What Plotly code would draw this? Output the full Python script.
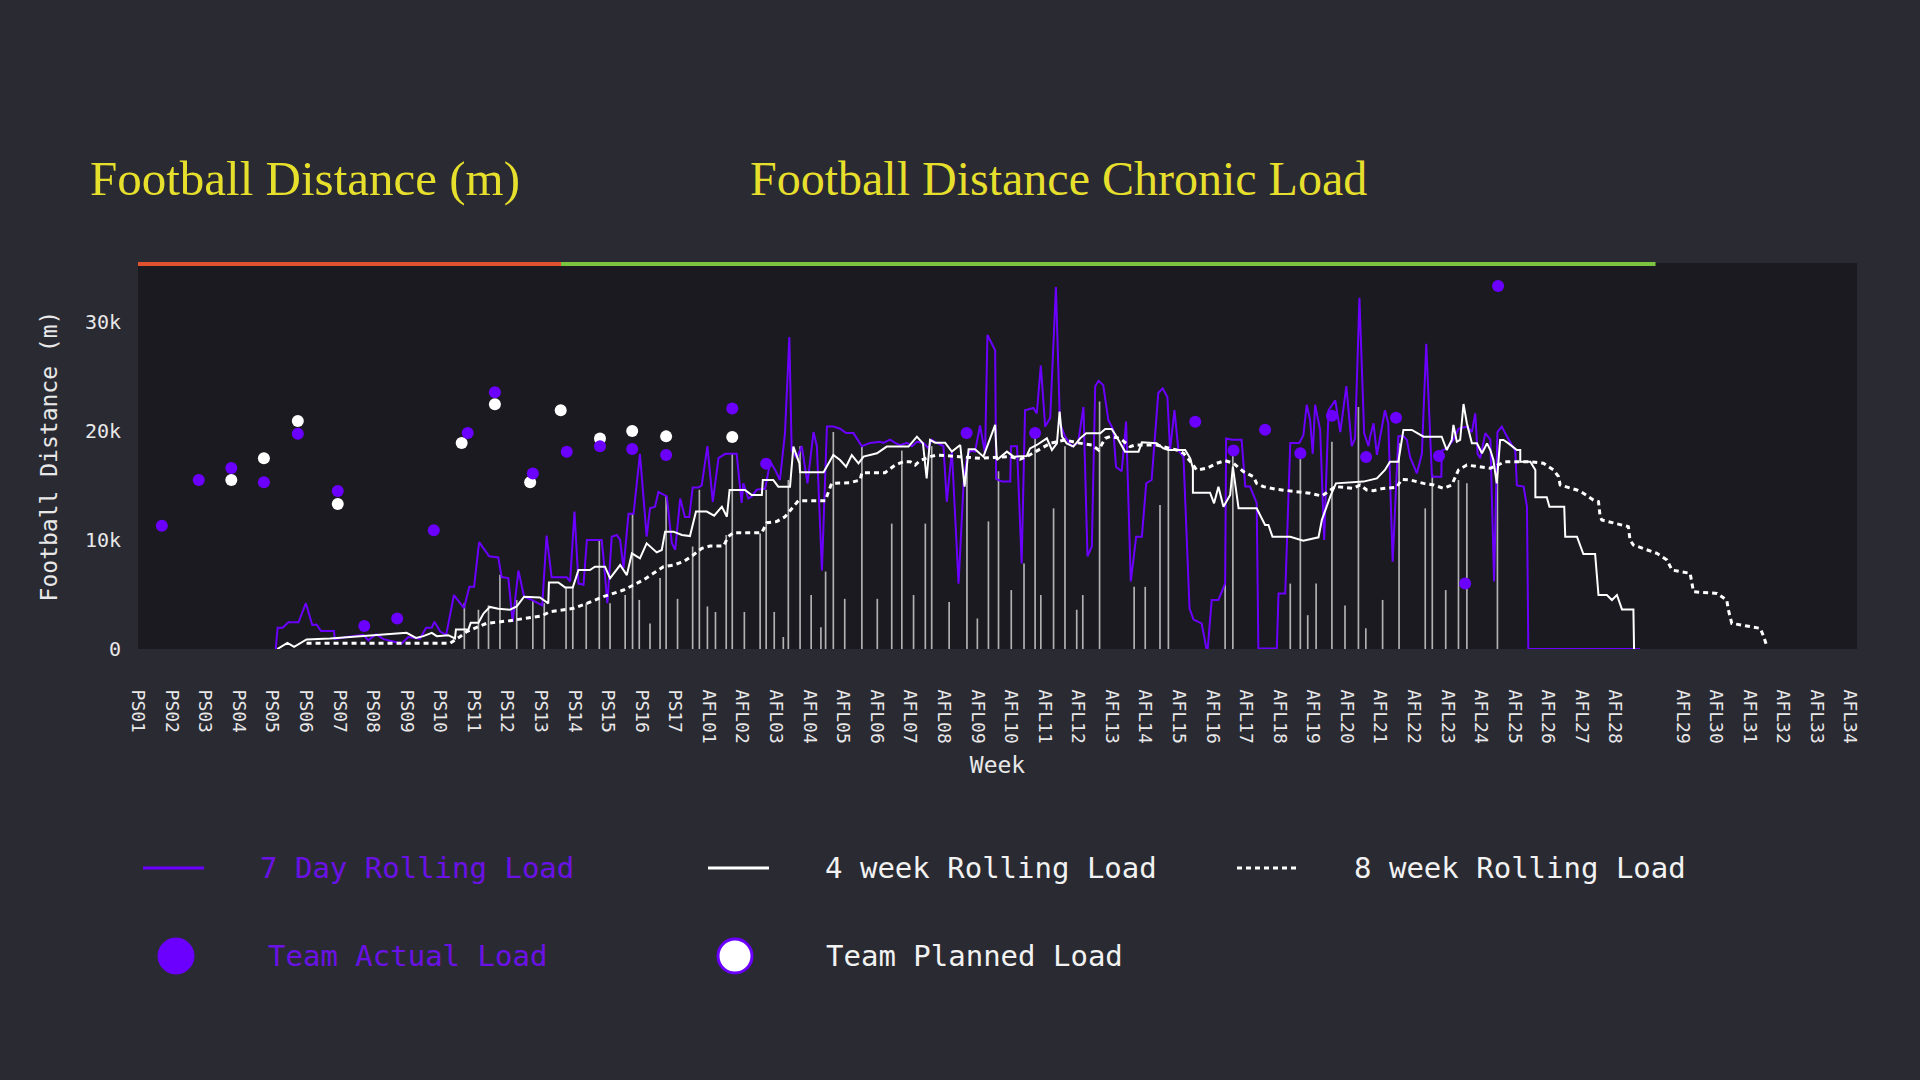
import numpy as np
import plotly.graph_objects as go

# ---- data (distances in thousands of metres, x in weeks from PS01) ----
tick_weeks = list(range(0, 45)) + [46, 47, 48, 49, 50, 51]
tick_labels = ([f"PS{i:02d}" for i in range(1, 18)] +
               [f"AFL{i:02d}" for i in range(1, 29)] +
               [f"AFL{i:02d}" for i in range(29, 35)])

seven_day_weeks = [4.10, 4.16, 4.31, 4.48, 4.78, 5.00, 5.19, 5.32, 5.45, 5.84, 5.86, 6.22, 6.71, 6.86, 7.09, 7.31,
                   7.85, 8.05, 8.40, 8.58, 8.75, 8.83, 9.00, 9.18, 9.41, 9.71, 9.87, 10.01, 10.16, 10.46, 10.73,
                   10.83, 11.03, 11.16, 11.33, 11.50, 11.73, 12.04, 12.17, 12.32, 12.77, 12.87, 13.00, 13.12,
                   13.27, 13.37, 13.81, 13.86, 13.98, 14.11, 14.26, 14.36, 14.46, 14.61, 14.76, 14.95, 15.15,
                   15.25, 15.40, 15.50, 15.75, 15.90, 16.00, 16.15, 16.29, 16.42, 16.52, 16.69, 16.79, 16.96,
                   17.12, 17.29, 17.49, 17.83, 17.98, 18.03, 18.18, 18.28, 18.43, 18.68, 18.83, 18.98, 19.12,
                   19.27, 19.40, 19.47, 19.62, 19.77, 19.94, 20.12, 20.22, 20.37, 20.52, 20.71, 20.91, 21.09,
                   21.31, 21.56, 21.80, 22.10, 22.20, 22.40, 22.55, 22.70, 22.90, 23.05, 23.20, 23.40, 23.54,
                   23.64, 23.79, 23.99, 24.09, 24.24, 24.44, 24.59, 24.69, 24.79, 24.93, 25.08, 25.23, 25.30,
                   25.53, 25.56, 25.73, 25.98, 26.00, 26.18, 26.32, 26.42, 26.67, 26.77, 26.89, 27.02, 27.17,
                   27.34, 27.46, 27.61, 27.81, 28.00, 28.16, 28.28, 28.41, 28.51, 28.61, 28.75, 28.90, 29.05,
                   29.13, 29.30, 29.43, 29.57, 29.73, 29.90, 30.03, 30.19, 30.39, 30.52, 30.66, 30.74, 30.87,
                   30.99, 31.14, 31.32, 31.44, 31.68, 31.85, 31.98, 32.18, 32.38, 32.41, 32.58, 32.87, 32.98,
                   33.12, 33.32, 33.37, 33.92, 33.97, 34.17, 34.32, 34.59, 34.71, 34.81, 34.91, 34.99, 35.06,
                   35.21, 35.33, 35.46, 35.66, 35.81, 35.99, 36.15, 36.25, 36.38, 36.52, 36.65, 36.70, 36.80,
                   36.90, 37.14, 37.24, 37.37, 37.54, 37.69, 37.79, 37.89, 38.09, 38.24, 38.37, 38.54, 38.82,
                   38.83, 38.98, 39.18, 39.33, 39.58, 39.73, 39.83, 39.90, 39.98, 40.13, 40.28, 40.39, 40.49,
                   40.62, 40.77, 41.02, 41.07, 41.27, 41.37, 41.41, 44.74]
seven_day_k = [0, 1.96, 1.96, 2.45, 2.45, 4.2, 2.2, 2.25, 1.65, 1.65, 0.9, 1.1, 1.3, 0.8, 1.35, 0.9,
               0.5, 1.1, 0.95, 1.95, 1.95, 2.5, 1.6, 1.3, 4.95, 3.75, 5.7, 5.7, 9.8, 8.5, 8.4,
               6.6, 6.5, 2.5, 7.2, 4.8, 4.5, 4.0, 10.4, 6.57, 6.57, 6.2, 12.6, 6.0,
               5.9, 10.0, 10.0, 8.5, 4.2, 10.3, 10.45, 10.0, 7.4, 12.4, 12.4, 17.9, 10.3,
               12.9, 13.05, 14.4, 14.0, 9.7, 9.1, 13.8, 12.1, 12.1, 14.8, 14.8, 15.0, 18.6,
               13.5, 17.5, 17.9, 17.9, 13.4, 15.2, 13.8, 14.0, 14.6, 14.7, 17.2, 16.4, 15.5,
               19.8, 28.6, 18.2, 17.5, 18.6, 15.2, 19.9, 18.6, 7.2, 20.4, 20.4, 20.2, 19.8,
               19.8, 18.6, 18.9, 19.0, 18.9, 19.2, 18.9, 18.7, 18.9, 18.6, 19.0, 18.9, 18.4,
               19.2, 18.9, 18.6, 13.5, 18.2, 6.0, 15.2, 17.6, 18.2, 18.1, 20.5, 17.9, 28.8,
               27.4, 15.6, 15.35, 15.35, 18.6, 18.6, 7.85, 21.9, 22.1, 21.6, 26.0, 20.4, 21.2,
               33.2, 20.7, 19.5, 18.6, 18.9, 22.2, 8.5, 9.4, 24.1, 24.6, 24.2, 21.0, 20.1,
               16.7, 16.3, 20.85, 6.2, 10.3, 10.3, 15.2, 15.5, 23.5, 23.9, 23.1, 18.2, 21.9,
               18.2, 17.6, 3.7, 2.7, 2.35, -0.4, 4.5, 4.5, 6.0, 19.3, 19.2, 19.2, 14.9,
               14.9, 13.4, 0.05, 0.05, 5.1, 5.1, 18.9, 18.9, 19.6, 22.4, 21.0, 17.9, 22.4,
               20.1, 10.0, 21.9, 22.8, 19.9, 24.1, 18.6, 19.3, 32.2, 19.8, 18.6, 19.5, 20.7,
               17.8, 21.9, 20.7, 8.0, 19.5, 19.5, 19.2, 17.6, 16.1, 17.9, 28.0, 15.8, 15.8,
               18.2, 18.4, 19.2, 20.2, 20.4, 19.9, 21.6, 17.9, 17.5, 19.8, 19.2, 6.2, 19.9,
               20.4, 19.5, 18.2, 15.0, 14.9, 13.05, 0, 0]

four_week_weeks = [4.15, 4.45, 4.65, 5.02, 5.72, 6.71, 8.00, 8.28, 8.50, 8.75, 8.90, 9.24, 9.44, 9.47, 9.84,
                   9.91, 10.14, 10.29, 10.48, 10.73, 11.08, 11.28, 11.50, 11.97, 12.22, 12.24, 12.52, 12.72,
                   12.95, 13.12, 13.46, 13.61, 13.91, 14.06, 14.36, 14.56, 14.71, 14.95, 15.15, 15.45, 15.60,
                   15.70, 15.95, 16.20, 16.44, 16.62, 16.94, 17.16, 17.39, 17.54, 17.62, 18.08, 18.28, 18.58,
                   18.61, 18.92, 19.07, 19.42, 19.52, 19.70, 19.72, 20.42, 20.71, 20.91, 21.09, 21.26, 21.46,
                   21.61, 22.01, 22.30, 22.95, 23.20, 23.38, 23.49, 23.59, 23.74, 24.04, 24.24, 24.49, 24.62,
                   24.74, 24.93, 25.18, 25.53, 25.58, 25.88, 26.08, 26.47, 26.57, 26.77, 26.97, 27.07, 27.22,
                   27.37, 27.45, 27.52, 27.66, 27.86, 28.06, 28.24, 28.66, 28.81, 29.00, 29.15, 29.40, 29.80,
                   29.90, 30.34, 30.54, 30.69, 31.19, 31.34, 31.42, 31.42, 31.93, 32.05, 32.18, 32.33, 32.53,
                   32.61, 32.78, 33.32, 33.57, 33.67, 33.79, 34.32, 34.71, 35.16, 35.26, 35.51, 35.68, 36.50,
                   36.90, 37.14, 37.29, 37.54, 37.69, 37.94, 38.29, 38.83, 38.98, 39.13, 39.18, 39.28, 39.38,
                   39.48, 39.58, 39.73, 39.88, 40.03, 40.18, 40.28, 40.37, 40.47, 40.57, 40.67, 40.82, 41.07,
                   41.17, 41.17, 41.47, 41.62, 41.62, 41.96, 42.04, 42.48, 42.51, 42.86, 43.05, 43.40, 43.50,
                   43.75, 43.90, 44.05, 44.20, 44.54, 44.56]
four_week_k = [0, 0.56, 0.2, 0.88, 0.97, 1.18, 1.48, 1.02, 1.18, 1.48, 1.18, 1.27, 0.97, 1.79, 1.79,
               2.4, 2.4, 3.25, 3.86, 3.7, 3.61, 3.9, 4.8, 4.73, 4.18, 6.1, 6.1, 5.65,
               5.65, 7.24, 7.24, 7.55, 7.55, 6.48, 7.7, 6.78, 8.77, 8.31, 9.69, 8.86, 9.08,
               10.76, 10.76, 10.45, 10.36, 12.6, 12.6, 12.23, 13.05, 12.13, 14.58, 14.58, 14.12, 14.12,
               15.5, 15.5, 14.89, 14.89, 18.56, 17.03, 16.2, 16.2, 17.79, 17.33, 16.72, 17.79, 17.03,
               17.64, 17.95, 18.56, 18.56, 19.47, 18.86, 15.65, 19.17, 18.92, 18.92, 18.1, 18.71, 14.89,
               18.31, 18.31, 17.64, 20.55, 17.33, 18.1, 17.64, 17.7, 18.4, 18.71, 19.17, 19.32, 18.25,
               18.86, 21.77, 19.47, 18.86, 18.56, 19.32, 19.78, 19.78, 20.18, 20.18, 19.47, 18.1, 18.1,
               18.95, 18.86, 18.4, 18.25, 18.25, 17.49, 16.57, 14.34, 14.34, 13.36, 14.89, 13.05, 14.12,
               16.72, 12.9, 12.9, 11.37, 11.37, 10.3, 10.3, 9.93, 10.24, 11.83, 13.97, 15.19, 15.35,
               15.65, 16.42, 17.18, 17.18, 20.09, 20.09, 19.47, 19.47, 18.25, 19.17, 20.55, 19.01, 19.17,
               22.47, 20.7, 18.86, 18.86, 17.95, 18.86, 18.25, 17.33, 15.19, 19.17, 19.17, 18.86, 18.25,
               18.25, 17.18, 17.18, 16.42, 13.91, 13.91, 13.05, 13.05, 10.3, 10.3, 8.71, 8.71, 4.95,
               4.95, 4.49, 4.95, 3.63, 3.63, 0]

eight_week_weeks = [5.02, 9.29, 9.59, 9.79, 10.14, 10.38, 11.08, 11.63, 12.02, 12.27, 12.97, 13.37, 13.86,
                    14.16, 14.46, 14.76, 15.05, 15.35, 15.65, 15.95, 16.25, 16.54, 16.79, 17.04, 17.44, 17.58,
                    17.73, 18.58, 18.73, 19.02, 19.27, 19.52, 19.67, 20.47, 20.66, 21.21, 21.51, 21.56, 22.25,
                    22.55, 22.80, 23.00, 23.15, 23.29, 23.59, 23.79, 24.59, 25.08, 25.98, 26.27, 26.47, 27.17,
                    27.61, 27.96, 28.41, 28.61, 28.81, 28.95, 29.25, 29.55, 29.70, 30.34, 30.94, 31.14, 31.39,
                    31.53, 31.83, 32.13, 32.38, 32.63, 32.93, 33.22, 33.32, 33.52, 33.92, 34.32, 34.91, 35.26,
                    35.51, 35.66, 35.90, 36.20, 36.40, 36.60, 36.80, 37.09, 37.49, 37.64, 37.89, 38.29, 38.59,
                    38.88, 39.13, 39.33, 39.58, 39.88, 40.28, 40.72, 41.47, 41.86, 42.16, 42.31, 42.36, 42.86,
                    43.05, 43.35, 43.50, 43.55, 43.60, 44.00, 44.39, 44.44, 44.54, 45.24, 45.54, 45.69, 46.23,
                    46.33, 47.03, 47.32, 47.37, 47.47, 48.32, 48.42, 48.52]
eight_week_k = [0.52, 0.52, 1.13, 1.59, 2.05, 2.35, 2.6, 2.87, 3.03, 3.42, 3.73, 4.18, 4.8,
                5.1, 5.41, 5.87, 6.32, 6.94, 7.55, 7.7, 8.01, 8.62, 9.23, 9.44, 9.44, 10.3,
                10.67, 10.67, 11.58, 11.68, 12.13, 13.05, 13.6, 13.6, 15.19, 15.25, 15.5, 16.17, 16.17,
                16.87, 17.18, 17.18, 16.87, 17.27, 17.64, 17.79, 17.64, 17.49, 17.64, 17.4, 17.64, 18.86,
                19.17, 18.92, 18.71, 18.25, 19.32, 19.47, 19.32, 18.56, 18.71, 18.71, 18.25, 17.95, 17.03,
                16.42, 16.57, 17.03, 17.27, 17.03, 16.26, 15.8, 15.19, 14.89, 14.64, 14.52, 14.28, 14.03,
                14.52, 14.89, 14.83, 14.73, 15.04, 14.58, 14.52, 14.73, 14.83, 15.56, 15.5, 15.19, 15.04,
                14.73, 15.04, 16.42, 16.87, 16.72, 16.57, 17.18, 17.18, 17.03, 16.42, 15.8, 15.04, 14.58,
                14.28, 13.66, 13.51, 12.13, 11.83, 11.52, 11.22, 9.99, 9.54, 8.77, 8.16, 7.24, 6.94,
                5.25, 5.1, 4.49, 3.57, 2.35, 1.89, 1.13, 0.21]

session_weeks = [9.72, 10.14, 10.44, 10.78, 11.28, 11.76, 12.10, 12.75, 12.95, 13.35, 13.74, 14.06, 14.51,
                 14.73, 14.93, 15.25, 15.55, 15.73, 16.07, 16.52, 16.72, 16.96, 17.20, 17.52, 17.70, 18.06,
                 18.53, 18.71, 18.95, 19.22, 19.37, 19.72, 20.05, 20.34, 20.48, 20.71, 21.05, 21.56, 22.02,
                 22.45, 22.75, 23.10, 23.45, 23.64, 24.16, 24.69, 25.00, 25.33, 25.63, 26.01, 26.39, 26.72,
                 26.89, 27.27, 27.61, 27.96, 28.14, 28.64, 29.67, 30.00, 30.44, 30.69, 32.38, 32.61, 34.32,
                 34.62, 34.84, 35.09, 35.56, 35.95, 36.35, 36.57, 37.07, 37.56, 38.34, 38.55, 38.95, 39.33,
                 39.58, 40.49]
session_k = [4.2, 3.6, 4.0, 6.8, 4.5, 4.5, 4.2, 5.7, 5.7, 4.2, 10.0, 4.2, 4.95,
             12.4, 4.5, 2.35, 6.5, 14.0, 4.6, 9.4, 14.6, 3.9, 3.4, 10.45, 17.9, 3.4,
             10.6, 14.6, 3.4, 1.1, 15.5, 18.6, 4.95, 2.0, 7.1, 19.9, 4.6, 18.6, 4.6,
             11.5, 18.2, 4.95, 11.5, 18.6, 4.3, 17.6, 2.8, 11.7, 16.3, 5.4, 7.85, 19.5,
             4.95, 12.9, 18.6, 3.6, 4.95, 22.7, 5.7, 5.7, 13.2, 18.2, 6.0, 17.9, 6.0,
             18.2, 3.1, 6.0, 19.0, 4.0, 22.2, 1.9, 4.5, 18.9, 12.9, 16.0, 5.4, 15.5,
             15.2, 16.3]

actual_weeks = [0.71, 1.81, 2.78, 3.75, 4.76, 5.95, 6.74, 7.72, 8.81, 9.82, 10.63, 11.76, 12.77, 13.76,
                14.72, 15.73, 17.70, 18.71, 24.68, 26.72, 31.49, 32.63, 33.57, 34.62, 35.56, 36.58, 37.47,
                38.75, 39.53, 40.51]
actual_k = [11.3, 15.5, 16.6, 15.3, 19.75, 14.5, 2.1, 2.8, 10.9, 19.8, 23.55, 16.1, 18.1, 18.6,
            18.35, 17.8, 22.05, 17.0, 19.8, 19.8, 20.85, 18.2, 20.1, 17.95, 21.4, 17.6, 21.2,
            17.7, 6.0, 33.3]

planned_weeks = [2.78, 3.75, 4.76, 5.95, 9.64, 10.63, 11.68, 12.59, 13.76, 14.72, 15.73, 17.70]
planned_k = [15.5, 17.5, 20.9, 13.3, 18.9, 22.45, 15.3, 21.9, 19.3, 20.0, 19.5, 19.45]

phase_starts = [0, 12.6]
phase_ends = [12.6, 45.2]
phase_colors = ["#e0522f", "#7cc43f"]

# ---- styling ----
PAPER = "#2a2a33"
PANEL = "#1b1a20"
PURPLE = "#6c00ff"
PURPLE_TXT = "#6a12e6"
YELLOW = "#e6df2c"
MONO = "DejaVu Sans Mono"
SERIF = "Liberation Serif"

PL, PR, PT, PB = 138, 1857, 263, 649


def px(x):
    return (x - PL) / (PR - PL)


def py(y):
    return (PB - y) / (PB - PT)


def k(vals):
    return np.array(vals) * 1000


fig = go.Figure()
fig.add_trace(go.Bar(x=session_weeks, y=k(session_k), width=0.05,
                     marker=dict(color="rgba(215,215,215,0.8)", line_width=0)))
fig.add_trace(go.Scatter(x=seven_day_weeks, y=k(seven_day_k), mode="lines",
                         line=dict(color=PURPLE, width=2)))
fig.add_trace(go.Scatter(x=four_week_weeks, y=k(four_week_k), mode="lines",
                         line=dict(color="white", width=2)))
fig.add_trace(go.Scatter(x=eight_week_weeks, y=k(eight_week_k), mode="lines",
                         line=dict(color="white", width=3, dash="5px,4px")))
fig.add_trace(go.Scatter(x=planned_weeks, y=k(planned_k), mode="markers",
                         marker=dict(color="white", size=12)))
fig.add_trace(go.Scatter(x=actual_weeks, y=k(actual_k), mode="markers",
                         marker=dict(color=PURPLE, size=12)))

shapes = []
for x0, x1, c in zip(phase_starts, phase_ends, phase_colors):
    shapes.append(dict(type="line", xref="x", yref="paper", x0=x0, x1=x1,
                       y0=py(264), y1=py(264), line=dict(color=c, width=4)))

annotations = [
    dict(text="Football Distance (m)", x=px(88), y=py(178), font=dict(family=SERIF, size=49, color=YELLOW)),
    dict(text="Football Distance Chronic Load", x=px(748), y=py(178),
         font=dict(family=SERIF, size=48, color=YELLOW)),
]

# manual legend
row1, row2 = 868, 956
shapes += [
    dict(type="line", xref="paper", yref="paper", x0=px(143), x1=px(204), y0=py(row1), y1=py(row1),
         line=dict(color=PURPLE, width=3)),
    dict(type="line", xref="paper", yref="paper", x0=px(708), x1=px(769), y0=py(row1), y1=py(row1),
         line=dict(color="white", width=3)),
    dict(type="line", xref="paper", yref="paper", x0=px(1237), x1=px(1300), y0=py(row1), y1=py(row1),
         line=dict(color="white", width=3, dash="5px,4px")),
    dict(type="circle", xref="paper", yref="paper", x0=px(158), x1=px(194), y0=py(938), y1=py(974),
         fillcolor=PURPLE, line=dict(color=PURPLE, width=1)),
    dict(type="circle", xref="paper", yref="paper", x0=px(718), x1=px(752), y0=py(939), y1=py(973),
         fillcolor="white", line=dict(color=PURPLE, width=3)),
]
legend_items = [
    ("7 Day Rolling Load", 258, row1, PURPLE_TXT),
    ("4 week Rolling Load", 823, row1, "#f2f2f2"),
    ("8 week Rolling Load", 1352, row1, "#f2f2f2"),
    ("Team Actual Load", 266, row2, PURPLE_TXT),
    ("Team Planned Load", 824, row2, "#f2f2f2"),
]
for txt, x, y, c in legend_items:
    annotations.append(dict(text=txt, x=px(x), y=py(y), font=dict(family=MONO, size=29, color=c)))

for a in annotations:
    a.update(xref="paper", yref="paper", xanchor="left", yanchor="middle", showarrow=False)

fig.update_layout(
    width=1920, height=1080,
    paper_bgcolor=PAPER, plot_bgcolor=PANEL,
    margin=dict(l=PL, r=1920 - PR, t=PT, b=1080 - PB),
    showlegend=False,
    shapes=shapes, annotations=annotations,
    font=dict(family=MONO, color="#e8e8e8"),
    xaxis=dict(range=[0, 51.2], tickvals=tick_weeks, ticktext=tick_labels, tickangle=90,
               tickfont=dict(family=MONO, size=18, color="#e8e8e8"),
               ticks="outside", ticklen=36, tickcolor="rgba(0,0,0,0)",
               showgrid=False, zeroline=False, showline=False,
               title=dict(text="Week", font=dict(family=MONO, size=23, color="#e8e8e8"), standoff=14)),
    yaxis=dict(range=[0, 35400], dtick=10000, tickformat="~s",
               tickfont=dict(family=MONO, size=20, color="#e8e8e8"),
               ticks="outside", ticklen=12, tickcolor="rgba(0,0,0,0)",
               showgrid=False, zeroline=False, showline=False,
               title=dict(text="Football Distance (m)", font=dict(family=MONO, size=23, color="#e8e8e8"),
                          standoff=20)),
)

fig.write_html("out.html", config={"displayModeBar": False},
               post_script="document.body.style.margin='0';document.body.style.background='#2a2a33';")
